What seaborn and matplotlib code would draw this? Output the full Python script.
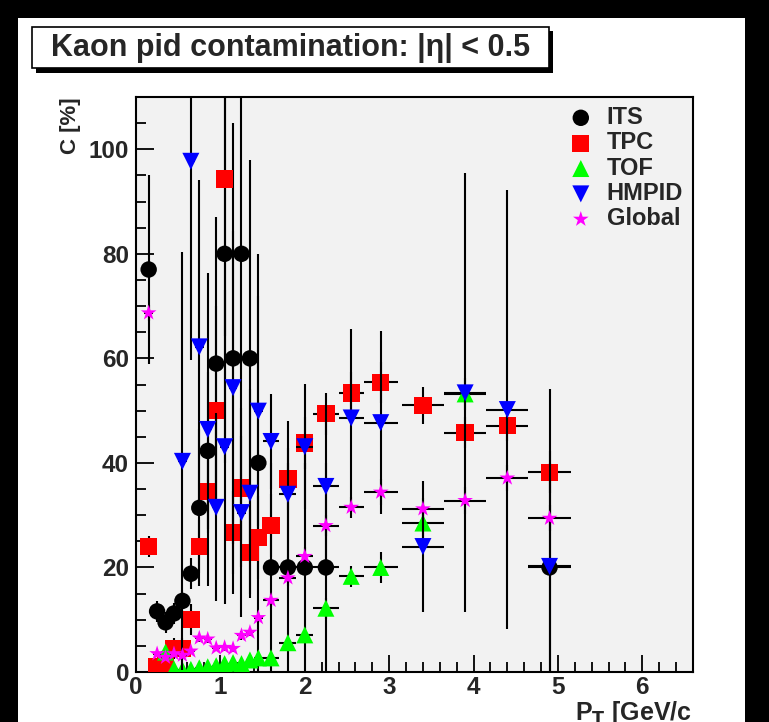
import matplotlib
matplotlib.use('Agg')
import matplotlib.pyplot as plt
from matplotlib.patches import Rectangle
from matplotlib.ticker import MultipleLocator
import numpy as np
import pandas as pd
import seaborn as sns

nan = np.nan

# --- data: kaon pid contamination C [%] per pT bin ---
pt = [0.15, 0.25, 0.35, 0.45, 0.55, 0.65, 0.75, 0.85, 0.95, 1.05, 1.15, 1.25,
      1.35, 1.45, 1.6, 1.8, 2.0, 2.25, 2.55, 2.9, 3.4, 3.9, 4.4, 4.9]
pt_err = [0.05, 0.05, 0.05, 0.05, 0.05, 0.05, 0.05, 0.05, 0.05, 0.05, 0.05, 0.05,
          0.05, 0.05, 0.1, 0.1, 0.1, 0.15, 0.15, 0.2, 0.25, 0.25, 0.25, 0.25]

its = [77, 11.6, 9.5, 11.2, 13.6, 18.8, 31.4, 42.3, 59, 80, 60, 80,
       60, 40, 20, 20, 20, 20, nan, nan, nan, nan, nan, 20]
its_err = [18, 2, 2, 2, 2, 3, 15, 15, 28, 40, 45, 60,
           38, 40, 20, 20, 20, 20, nan, nan, nan, nan, nan, 20]

tpc = [24, 1, 1.5, 4.5, 4.5, 10, 24, 34.5, 50, 94.3, 26.7, 35.2,
       22.9, 25.7, 28, 36.9, 43.8, 49.4, 53.4, 55.4, 51, 45.8, 47.1, 38.2]
tpc_err = [2, 1, 1, 2, 2, 3, 5, 8, 20, 30, 8, 10,
           8, 8, 6, 6, 5, 4, 4, 4, 3.5, 3, 3, 4]

tof = [nan, nan, 3.8, 0.6, 0.4, 0.5, 0.8, 1.0, 1.2, 1.6, 1.8, 1.6,
       2.3, 2.7, 2.7, 5.6, 7.1, 12.2, 18.3, 20.0, 28.5, 53.2, nan, nan]
tof_err = [nan, nan, 1, 0.5, 0.5, 0.5, 0.5, 0.5, 0.5, 0.6, 0.6, 0.6,
           0.8, 0.8, 0.8, 1.2, 1.5, 2, 2, 3, 3.5, 3, nan, nan]

hmpid = [nan, nan, nan, nan, 40.3, 97.7, 62.2, 46.4, 31.5, 43.1, 54.4, 30.5,
         34.2, 49.9, 44.1, 34, 43.1, 35.5, 48.6, 47.7, 24, 53.4, 50.2, 20.2]
hmpid_err = [nan, nan, nan, nan, 40, 38, 32, 30, 18, 30, 30, 20,
             20, 22, 9, 14, 12, 15.5, 17, 17.5, 12.5, 42, 42, 34]

glob = [68.7, 3.5, 2.8, 3.5, 3.2, 4.0, 6.5, 6.3, 4.6, 4.7, 4.5, 7.0,
        7.6, 10.4, 13.7, 18.0, 22.1, 28.0, 31.5, 34.4, 31.2, 32.8, 37.1, 29.4]
glob_err = [1.5, 0.5, 0.5, 0.5, 0.5, 0.5, 0.8, 0.8, 0.6, 0.6, 0.6, 0.8,
            0.8, 1, 1.2, 1.5, 1.8, 2, 2, 2.5, 2, 2.5, 2.5, 2.5]

detectors = ['ITS', 'TPC', 'TOF', 'HMPID', 'Global']
values = {'ITS': (its, its_err), 'TPC': (tpc, tpc_err), 'TOF': (tof, tof_err),
          'HMPID': (hmpid, hmpid_err), 'Global': (glob, glob_err)}

# long table
rows = []
for det in detectors:
    vals, errs = values[det]
    for x, xe, v, e in zip(pt, pt_err, vals, errs):
        if not np.isnan(v):
            rows.append((det, x, xe, v, e))
df = pd.DataFrame(rows, columns=['detector', 'pt', 'pt_err', 'C', 'C_err'])

# styles (ROOT-like)
colors = {'ITS': '#000000', 'TPC': '#ff0000', 'TOF': '#00ff00', 'HMPID': '#0000ff', 'Global': '#ff00ff'}
markers = {'ITS': 'o', 'TPC': 's', 'TOF': '^', 'HMPID': 'v', 'Global': '*'}
sizes = {'ITS': 140, 'TPC': 155, 'TOF': 150, 'HMPID': 150, 'Global': 140}

W, H = 769, 722
sns.set_style('ticks')
plt.rcParams['font.family'] = ['Liberation Sans', 'DejaVu Sans']
plt.rcParams['font.weight'] = 'bold'

fig = plt.figure(figsize=(W / 100, H / 100), dpi=100)
fig.patch.set_facecolor('black')
fig.add_artist(Rectangle((18 / W, 0), (745 - 18) / W, (H - 18) / H, transform=fig.transFigure,
                         facecolor='white', edgecolor='none', zorder=-5))

ax = fig.add_axes([136 / W, 1 - 672 / H, (693 - 136) / W, (672 - 97) / H])
ax.set_facecolor('#f2f2f2')

# each detector: error bars first, then its markers on top
for i, det in enumerate(detectors):
    d = df[df['detector'] == det]
    ax.errorbar(d['pt'], d['C'], xerr=d['pt_err'], yerr=d['C_err'], fmt='none',
                ecolor='black', elinewidth=1.5, capsize=0, zorder=2 + 2 * i)
    sns.scatterplot(data=d, x='pt', y='C', ax=ax, marker=markers[det], color=colors[det],
                    s=sizes[det], linewidth=0, edgecolor='none', label=det, zorder=3 + 2 * i)

ax.set_xlim(0, 6.6)
ax.set_ylim(0, 110)
ax.xaxis.set_major_locator(MultipleLocator(1))
ax.xaxis.set_minor_locator(MultipleLocator(0.2))
ax.yaxis.set_major_locator(MultipleLocator(20))
ax.yaxis.set_minor_locator(MultipleLocator(5))
ax.tick_params(which='both', direction='in', top=False, right=False, width=1.3, color='black')
ax.tick_params(axis='x', which='major', length=12, labelsize=17.5, pad=3)
ax.tick_params(axis='x', which='minor', length=7)
ax.tick_params(axis='y', which='major', length=13, labelsize=17.5, pad=5)
ax.tick_params(axis='y', which='minor', length=7)
for lab in ax.get_xticklabels() + ax.get_yticklabels():
    lab.set_fontweight('bold')
for sp in ax.spines.values():
    sp.set_linewidth(1.5)
    sp.set_color('black')

ax.set_xlabel('')
ax.set_ylabel('C [%]', fontsize=16, fontweight='bold', loc='top')
ax.yaxis.set_label_coords(-0.098, 1.0)
fig.text(692 / W, 1 - 699 / H, r'P$_\mathbf{T}$ [GeV/c', ha='right', va='top',
         fontsize=18, fontweight='bold')

leg = ax.legend(loc='upper left', bbox_to_anchor=(569 / W, 1 - 106 / H), bbox_transform=fig.transFigure,
                frameon=False, borderpad=0, borderaxespad=0, handlelength=1.0, handletextpad=0.6,
                labelspacing=0.1, prop={'size': 17, 'weight': 'bold'})

# title pave with shadow
fig.add_artist(Rectangle((36 / W, 1 - 73 / H), (553 - 36) / W, (73 - 31) / H, transform=fig.transFigure,
                         facecolor='black', edgecolor='none', zorder=1))
fig.add_artist(Rectangle((32 / W, 1 - 68 / H), (549 - 32) / W, (68 - 27) / H, transform=fig.transFigure,
                         facecolor='white', edgecolor='black', linewidth=1.2, zorder=2))
fig.text(291 / W, 1 - 48 / H, 'Kaon pid contamination: |η| < 0.5', ha='center', va='center',
         fontsize=22, fontweight='bold', zorder=3)

fig.savefig('out.png', dpi=100, facecolor=fig.get_facecolor())
